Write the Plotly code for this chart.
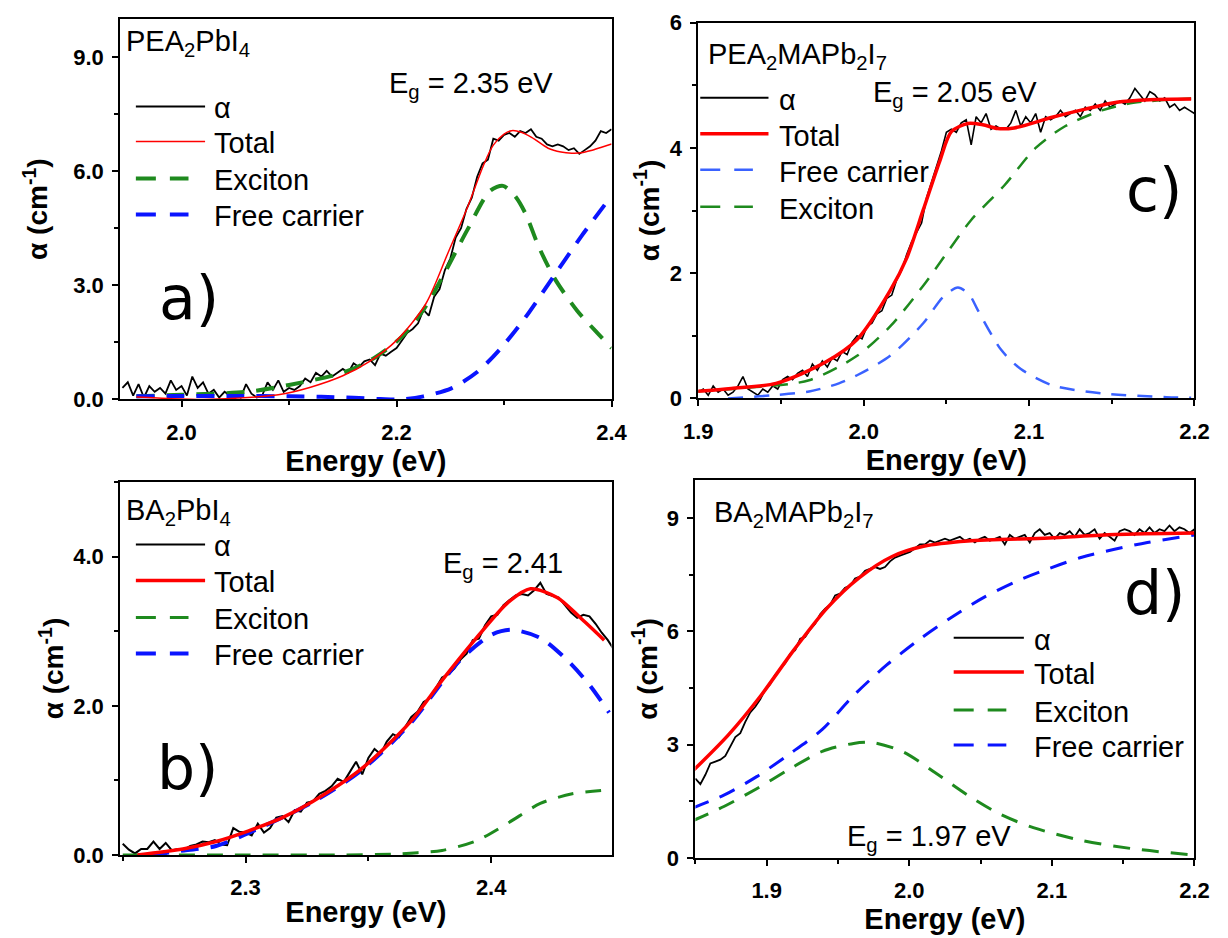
import numpy as np
import plotly.graph_objects as go
from plotly.subplots import make_subplots

W, H = 1228, 938

# ---------------- Panel a : PEA2PbI4 ----------------
a_alpha_y = [0.3, 0.45, 0.1, 0.4, 0.05, 0.35, 0.2, 0.3, 0.15, 0.5, 0.25, 0.35, 0.1, 0.6, 0.3, 0.45,
             0.15, 0.25, 0.05, 0.2, 0.1, 0.15, 0.05, 0.4, 0.15, 0.05, 0.1, 0.45, 0.25, 0.5, 0.2, 0.3,
             0.25, 0.35, 0.55, 0.45, 0.7, 0.6, 0.75, 0.6, 0.7, 0.8, 0.7, 0.95, 0.85, 1.0, 1.05, 0.9,
             1.2, 1.15, 1.25, 1.35, 1.55, 1.75, 1.85, 2.0, 2.35, 2.2, 2.7, 2.9, 3.4, 3.7, 4.25, 4.5,
             5.0, 5.3, 5.85, 6.2, 6.3, 6.85, 6.8, 6.95, 7.0, 6.9, 7.05, 7.0, 7.1, 6.9, 6.85, 6.7,
             6.65, 6.7, 6.65, 6.55, 6.6, 6.45, 6.55, 6.65, 6.8, 7.05, 7.0, 7.1]
a_alpha_x = np.linspace(1.945, 2.400, len(a_alpha_y))
a_total_x = [1.958, 1.99, 2.02, 2.05, 2.09, 2.12, 2.15, 2.175, 2.2, 2.227, 2.248, 2.266, 2.281, 2.29,
             2.3, 2.307, 2.316, 2.326, 2.341, 2.353, 2.363, 2.372, 2.381, 2.39, 2.4]
a_total_y = [0.06, 0.02, 0.0, 0.03, 0.12, 0.32, 0.62, 1.0, 1.55, 2.5, 3.86, 5.05, 6.16, 6.68,
             6.97, 7.06, 7.02, 6.88, 6.6, 6.5, 6.47, 6.48, 6.54, 6.62, 6.71]
a_exc_x = [1.958, 2.0, 2.061, 2.1, 2.151, 2.18, 2.205, 2.225, 2.242, 2.266, 2.287, 2.299, 2.31,
           2.32, 2.332, 2.347, 2.368, 2.385, 2.4]
a_exc_y = [0.08, 0.12, 0.2, 0.38, 0.71, 1.1, 1.65, 2.35, 3.18, 4.46, 5.48, 5.61, 5.35, 4.88, 4.03,
           3.18, 2.33, 1.8, 1.35]
a_free_x = [1.958, 2.0, 2.05, 2.1, 2.13, 2.16, 2.185, 2.205, 2.225, 2.251, 2.275, 2.296, 2.32, 2.347,
            2.372, 2.4]
a_free_y = [0.08, 0.09, 0.09, 0.08, 0.07, 0.04, 0.01, 0.0, 0.08, 0.29, 0.72, 1.31, 2.16, 3.27, 4.29, 5.35]

# ---------------- Panel b : BA2PbI4 ----------------
b_alpha_y = [0.15, 0.07, 0.02, 0.08, 0.08, 0.18, 0.08, 0.16, 0.06, 0.08, 0.07, 0.12, 0.14, 0.18,
             0.17, 0.2, 0.14, 0.13, 0.36, 0.31, 0.3, 0.26, 0.42, 0.3, 0.36, 0.5, 0.52, 0.44, 0.6,
             0.58, 0.7, 0.72, 0.82, 0.86, 0.92, 1.02, 0.98, 1.12, 1.25, 1.08, 1.3, 1.42, 1.35, 1.52,
             1.62, 1.58, 1.72, 1.85, 1.92, 2.05, 2.1, 2.25, 2.38, 2.42, 2.5, 2.62, 2.7, 2.88, 2.9,
             3.08, 3.2, 3.22, 3.35, 3.42, 3.48, 3.5, 3.48, 3.55, 3.65, 3.5, 3.47, 3.45, 3.35, 3.25,
             3.18, 3.22, 3.2, 3.1, 2.98, 2.88, 2.75]
b_alpha_x = np.linspace(2.25, 2.45, len(b_alpha_y))
b_total_x = [2.256, 2.2745, 2.288, 2.301, 2.315, 2.327, 2.347, 2.367, 2.38, 2.394, 2.407, 2.416,
             2.427, 2.436, 2.446]
b_total_y = [0.0, 0.08, 0.18, 0.32, 0.5, 0.71, 1.15, 1.78, 2.34, 2.91, 3.39, 3.57, 3.45, 3.19, 2.88]
b_exc_x = [2.25, 2.3, 2.34, 2.36, 2.37, 2.38, 2.394, 2.407, 2.42, 2.433, 2.447]
b_exc_y = [0.0, 0.0, 0.0, 0.01, 0.03, 0.06, 0.19, 0.43, 0.69, 0.82, 0.87]
b_free_x = [2.2615, 2.275, 2.288, 2.305, 2.327, 2.347, 2.367, 2.387, 2.4, 2.408, 2.42, 2.431, 2.44, 2.448]
b_free_y = [0.0, 0.06, 0.12, 0.35, 0.7, 1.13, 1.76, 2.6, 2.95, 3.02, 2.91, 2.61, 2.28, 1.91]

# ---------------- Panel c : PEA2MAPb2I7 ----------------
c_alpha_y = [0.1, 0.15, 0.05, 0.2, 0.1, 0.15, 0.05, 0.1, 0.2, 0.35, 0.15, 0.1, 0.05, 0.15, 0.1,
             0.2, 0.15, 0.3, 0.35, 0.3, 0.4, 0.45, 0.35, 0.55, 0.45, 0.6, 0.5, 0.65, 0.6, 0.75, 0.7,
             0.9, 1.0, 0.95, 1.15, 1.2, 1.35, 1.4, 1.6, 1.65, 1.9, 2.05, 2.3, 2.5, 2.65, 2.8, 3.2,
             3.45, 3.7, 3.95, 4.25, 4.3, 4.25, 4.4, 4.45, 4.05, 4.5, 4.4, 4.55, 4.3, 4.35, 4.3, 4.3,
             4.4, 4.6, 4.35, 4.5, 4.4, 4.55, 4.25, 4.5, 4.45, 4.5, 4.6, 4.5, 4.55, 4.6, 4.5, 4.65,
             4.6, 4.7, 4.6, 4.75, 4.65, 4.7, 4.75, 4.7, 4.8, 4.95, 4.85, 4.75, 4.9, 4.85, 4.75, 4.8,
             4.65, 4.7, 4.6, 4.65, 4.6, 4.55]
c_alpha_x = np.linspace(1.9, 2.2, len(c_alpha_y))
c_total_x = [1.898, 1.92, 1.947, 1.977, 1.996, 2.016, 2.026, 2.036, 2.046, 2.053, 2.063, 2.072,
             2.081, 2.091, 2.114, 2.134, 2.153, 2.173, 2.198]
c_total_y = [0.11, 0.16, 0.24, 0.58, 0.94, 1.72, 2.24, 3.01, 3.79, 4.26, 4.39, 4.37, 4.31, 4.32,
             4.49, 4.62, 4.73, 4.77, 4.78]
c_free_x = [1.918, 1.945, 1.967, 1.985, 1.996, 2.016, 2.036, 2.048, 2.057, 2.064, 2.069, 2.083,
            2.095, 2.114, 2.144, 2.183, 2.198]
c_free_y = [0.0, 0.05, 0.11, 0.24, 0.37, 0.68, 1.2, 1.62, 1.77, 1.65, 1.41, 0.78, 0.47, 0.21,
            0.08, 0.02, 0.01]
c_exc_x = [1.898, 1.93, 1.967, 1.996, 2.016, 2.036, 2.051, 2.065, 2.085, 2.104, 2.122, 2.144,
           2.163, 2.198]
c_exc_y = [0.11, 0.17, 0.29, 0.68, 1.15, 1.8, 2.35, 2.85, 3.4, 4.0, 4.35, 4.6, 4.72, 4.79]

# ---------------- Panel d : BA2MAPb2I7 ----------------
d_alpha_y = [2.1, 1.95, 2.2, 2.5, 2.55, 2.6, 2.7, 2.95, 3.2, 3.3, 3.6, 3.85, 4.0, 4.2, 4.45, 4.6,
             4.85, 5.0, 5.15, 5.4, 5.5, 5.8, 5.85, 6.05, 6.2, 6.45, 6.6, 6.7, 6.95, 7.0, 7.15, 7.2,
             7.4, 7.45, 7.6, 7.65, 7.7, 7.65, 7.7, 7.85, 7.95, 8.0, 8.05, 8.1, 8.2, 8.3, 8.3, 8.4,
             8.35, 8.4, 8.45, 8.4, 8.45, 8.5, 8.4, 8.45, 8.35, 8.45, 8.5, 8.4, 8.45, 8.5, 8.3, 8.55,
             8.45, 8.5, 8.55, 8.35, 8.6, 8.7, 8.55, 8.6, 8.45, 8.6, 8.55, 8.65, 8.5, 8.7, 8.55, 8.6,
             8.7, 8.45, 8.6, 8.5, 8.4, 8.65, 8.7, 8.65, 8.55, 8.7, 8.6, 8.75, 8.6, 8.7, 8.65, 8.8,
             8.65, 8.75, 8.7, 8.6, 8.7]
d_alpha_x = np.linspace(1.85, 2.2, len(d_alpha_y))
d_total_x = [1.849, 1.873, 1.896, 1.919, 1.942, 1.965, 1.988, 2.01, 2.041, 2.098, 2.144, 2.2]
d_total_y = [2.33, 3.25, 4.3, 5.5, 6.6, 7.42, 7.98, 8.25, 8.39, 8.47, 8.56, 8.6]
d_exc_x = [1.848, 1.87, 1.893, 1.916, 1.939, 1.961, 1.975, 1.996, 2.018, 2.041, 2.064, 2.087,
           2.121, 2.155, 2.2]
d_exc_y = [0.98, 1.36, 1.83, 2.35, 2.82, 3.03, 3.05, 2.8, 2.26, 1.66, 1.15, 0.8, 0.46, 0.25, 0.07]
d_free_x = [1.848, 1.87, 1.893, 1.916, 1.939, 1.961, 1.984, 2.007, 2.03, 2.052, 2.075, 2.098,
            2.121, 2.144, 2.167, 2.2]
d_free_y = [1.32, 1.66, 2.15, 2.75, 3.4, 4.3, 5.1, 5.78, 6.38, 6.89, 7.32, 7.66, 7.96, 8.17, 8.35, 8.55]

RED, GREEN, BLUE, BLUE_C, BLACK = "#ff0000", "#1e8a1e", "#0a14ff", "#3a62ff", "#000000"
FONT = "Liberation Sans, Arial, sans-serif"

fig = make_subplots(rows=2, cols=2)

def px_x(p):
    return p / W

def px_y(p):
    return 1 - p / H

def add(x, y, color, width, dash, row, col, spline=True):
    fig.add_trace(go.Scatter(x=list(x), y=list(y), mode="lines", showlegend=False,
                             line=dict(color=color, width=width, dash=dash,
                                       shape="spline" if spline else "linear", smoothing=0.8)),
                  row=row, col=col)

# panel a (row1 col1)
add(a_alpha_x, a_alpha_y, BLACK, 1.8, "solid", 1, 1, spline=False)
add(a_exc_x, a_exc_y, GREEN, 4, "18px,12px", 1, 1)
add(a_free_x, a_free_y, BLUE, 4, "18px,12px", 1, 1)
add(a_total_x, a_total_y, RED, 1.5, "solid", 1, 1)
# panel c (row1 col2)
add(c_alpha_x, c_alpha_y, BLACK, 1.6, "solid", 1, 2, spline=False)
add(c_free_x, c_free_y, BLUE_C, 2.5, "15px,11px", 1, 2)
add(c_exc_x, c_exc_y, GREEN, 2.5, "15px,11px", 1, 2)
add(c_total_x, c_total_y, RED, 3.5, "solid", 1, 2)
# panel b (row2 col1)
add(b_alpha_x, b_alpha_y, BLACK, 2, "solid", 2, 1, spline=False)
add(b_exc_x, b_exc_y, GREEN, 3, "16px,12px", 2, 1)
add(b_free_x, b_free_y, BLUE, 4, "18px,12px", 2, 1)
add(b_total_x, b_total_y, RED, 3.5, "solid", 2, 1)
# panel d (row2 col2)
add(d_alpha_x, d_alpha_y, BLACK, 1.8, "solid", 2, 2, spline=False)
add(d_free_x, d_free_y, BLUE, 3, "17px,12px", 2, 2)
add(d_exc_x, d_exc_y, GREEN, 3, "17px,12px", 2, 2)
add(d_total_x, d_total_y, RED, 3.5, "solid", 2, 2)

axis_common = dict(showline=True, linecolor="black", linewidth=2, mirror=True, ticks="outside",
                   ticklen=6, tickwidth=2, tickcolor="black", showgrid=False, zeroline=False,
                   ticklabeloverflow="allow",
                   tickfont=dict(family=FONT, size=22, color="black", weight="bold"))

# (xname, yname, x-domain px, y-domain px, xrange, yrange, xticks, yticks, yfmt, minor dx, minor dy, ystandoff)
panels = [
    ("xaxis", "yaxis", (108, 612), (7, 398), [1.943, 2.4], [0, 10], [2.0, 2.2, 2.4], [0, 3, 6, 9], ".1f", 0.1, 1.5, 17),
    ("xaxis2", "yaxis2", (701, 1210), (11, 397), [1.9, 2.2], [0, 6], [1.9, 2.0, 2.1, 2.2], [0, 2, 4, 6], "d", 0.05, 1, 2),
    ("xaxis3", "yaxis3", (108, 612), (483, 866), [2.249, 2.449], [0, 5], [2.3, 2.4], [0, 2, 4], ".1f", 0.05, 1, 1),
    ("xaxis4", "yaxis4", (698, 1210), (481, 869), [1.85, 2.2], [0, 10], [1.9, 2.0, 2.1, 2.2], [0, 3, 6, 9], "d", 0.05, 1.5, 1),
]
for xn, yn, (x0, x1), (y0, y1), xr, yr, xt, yt, yf, mdx, mdy, ysd in panels:
    fig.layout[xn].update(**axis_common, domain=[px_x(x0), px_x(x1)], range=xr, tickvals=xt,
                          ticktext=[f"{v:.1f}" for v in xt], ticklabelstandoff=6,
                          minor=dict(ticks="outside", ticklen=4, tickwidth=2, tickcolor="black", dtick=mdx),
                          title=dict(text="Energy (eV)", standoff=2,
                                     font=dict(family=FONT, size=29, color="black", weight="bold")))
    fig.layout[yn].update(**axis_common, domain=[px_y(y1), px_y(y0)], range=yr, tickvals=yt,
                          ticktext=[(f"{v:.1f}" if yf == ".1f" else f"{v:d}") for v in yt],
                          ticklabelstandoff=4,
                          minor=dict(ticks="outside", ticklen=4, tickwidth=2, tickcolor="black", dtick=mdy),
                          title=dict(text="α (cm<sup>-1</sup>)", standoff=ysd,
                                     font=dict(family=FONT, size=28, color="black", weight="bold")))

# manual legends: (line x0, solid x1, dashed x1, text x, entries[(label, y, color, width, dash)])
DL = "20px,14px"
legends = [
    (124, 195, 178, 202, [("α", 97, BLACK, 2, "solid"), ("Total", 133, RED, 1.5, "solid"),
                          ("Exciton", 171, GREEN, 4, DL), ("Free carrier", 208, BLUE, 4, DL)]),
    (703, 773, 757, 782, [("α", 88, BLACK, 2, "solid"), ("Total", 125, RED, 3.5, "solid"),
                          ("Free carrier", 162, BLUE_C, 2.5, DL), ("Exciton", 200, GREEN, 2.5, DL)]),
    (124, 195, 178, 202, [("α", 547, BLACK, 2, "solid"), ("Total", 584, RED, 3.5, "solid"),
                          ("Exciton", 622, GREEN, 3, DL), ("Free carrier", 659, BLUE, 4, DL)]),
    (963, 1035, 1017, 1043, [("α", 643, BLACK, 2, "solid"), ("Total", 678, RED, 3.5, "solid"),
                             ("Exciton", 717, GREEN, 3, DL), ("Free carrier", 753, BLUE, 3, DL)]),
]
for lx0, lx1, lxd, tx, entries in legends:
    for label, yy, col, wd, ds in entries:
        xend = lx1 if ds == "solid" else lxd
        fig.add_shape(type="line", xref="paper", yref="paper", x0=px_x(lx0), x1=px_x(xend),
                      y0=px_y(yy), y1=px_y(yy), line=dict(color=col, width=wd, dash=ds))
        fig.add_annotation(xref="paper", yref="paper", x=px_x(tx), y=px_y(yy + 2), text=label,
                           showarrow=False, xanchor="left", yanchor="middle",
                           font=dict(family=FONT, size=29, color="black"))

# text labels: (text, left x px, centre y px, size, family)
labels = [
    ("PEA<sub>2</sub>PbI<sub>4</sub>", 112, 32, 29, FONT),
    ("E<sub>g</sub> = 2.35 eV", 382, 75, 29, FONT),
    ("a)", 146, 294, 60, "DejaVu Sans"),
    ("PEA<sub>2</sub>MAPb<sub>2</sub>I<sub>7</sub>", 709, 45, 29, FONT),
    ("E<sub>g</sub> = 2.05 eV", 878, 84, 29, FONT),
    ("c)", 1138, 183, 60, "DejaVu Sans"),
    ("BA<sub>2</sub>PbI<sub>4</sub>", 112, 514, 29, FONT),
    ("E<sub>g</sub> = 2.41", 437, 568, 29, FONT),
    ("b)", 144, 777, 60, "DejaVu Sans"),
    ("BA<sub>2</sub>MAPb<sub>2</sub>I<sub>7</sub>", 715, 516, 29, FONT),
    ("E<sub>g</sub> = 1.97 eV", 851, 849, 29, FONT),
    ("d)", 1136, 597, 60, "DejaVu Sans"),
]
for txt, lx, cy, sz, fam in labels:
    fig.add_annotation(xref="paper", yref="paper", x=px_x(lx), y=px_y(cy), text=txt, showarrow=False,
                       xanchor="left", yanchor="middle", font=dict(family=fam, size=sz, color="black"))

fig.update_layout(width=W, height=H, margin=dict(l=0, r=0, t=0, b=0),
                  paper_bgcolor="white", plot_bgcolor="white",
                  font=dict(family=FONT, color="black"))
fig.write_html("out.html", config={"displayModeBar": False},
               post_script="document.body.style.margin='0px';")
